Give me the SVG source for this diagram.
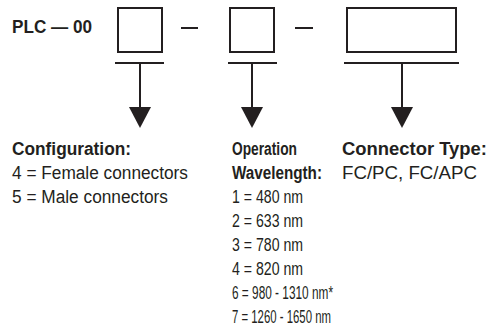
<svg xmlns="http://www.w3.org/2000/svg" width="488" height="335" viewBox="0 0 488 335">
  <style>
    .ink { stroke: #231f20; stroke-width: 2; fill: none; }
    .head { fill: #231f20; }
    text { font-family: "Liberation Sans", Arial, sans-serif; font-size: 18px; fill: #231f20; }
    .b { font-weight: bold; }
  </style>
  <defs>
    <polygon id="arrowhead" class="head" points="-11,0 11,0 0,21"/>
  </defs>
  <rect width="488" height="335" fill="#ffffff"/>

  <!-- part number prefix -->
  <g id="prefix">
    <text class="b" x="12" y="33" textLength="80" lengthAdjust="spacingAndGlyphs">PLC — 00</text>
  </g>

  <!-- code fields -->
  <g id="field-config">
    <rect class="ink" x="118" y="8" width="44" height="44"/>
  </g>
  <g id="field-wavelength">
    <rect class="ink" x="230" y="8" width="44" height="44"/>
  </g>
  <g id="field-connector">
    <rect class="ink" x="347" y="8" width="109" height="44"/>
  </g>

  <!-- separators, brackets and arrows -->
  <g id="connectors">
    <line class="ink" x1="181" y1="28" x2="198" y2="28"/>
    <line class="ink" x1="295" y1="28" x2="313" y2="28"/>

    <line class="ink" x1="115" y1="63" x2="164" y2="63"/>
    <line class="ink" x1="140" y1="63" x2="140" y2="109"/>
    <use href="#arrowhead" x="140" y="107"/>

    <line class="ink" x1="228" y1="63" x2="277" y2="63"/>
    <line class="ink" x1="252" y1="63" x2="252" y2="109"/>
    <use href="#arrowhead" x="252" y="107"/>

    <line class="ink" x1="344" y1="63" x2="459" y2="63"/>
    <line class="ink" x1="402" y1="63" x2="402" y2="109"/>
    <use href="#arrowhead" x="402" y="107"/>
  </g>

  <!-- legends -->
  <g id="legend-config">
    <text class="b" x="12" y="155" textLength="119" lengthAdjust="spacingAndGlyphs">Configuration:</text>
    <text x="12" y="179" textLength="176" lengthAdjust="spacingAndGlyphs">4 = Female connectors</text>
    <text x="12" y="203" textLength="156" lengthAdjust="spacingAndGlyphs">5 = Male connectors</text>
  </g>
  <g id="legend-wavelength">
    <text class="b" x="232" y="155" textLength="65" lengthAdjust="spacingAndGlyphs">Operation</text>
    <text class="b" x="232" y="179" textLength="90" lengthAdjust="spacingAndGlyphs">Wavelength:</text>
    <text x="232" y="203" textLength="71" lengthAdjust="spacingAndGlyphs">1 = 480 nm</text>
    <text x="232" y="227" textLength="71" lengthAdjust="spacingAndGlyphs">2 = 633 nm</text>
    <text x="232" y="251" textLength="71" lengthAdjust="spacingAndGlyphs">3 = 780 nm</text>
    <text x="232" y="275" textLength="71" lengthAdjust="spacingAndGlyphs">4 = 820 nm</text>
    <text x="232" y="299" textLength="101" lengthAdjust="spacingAndGlyphs">6 = 980 - 1310 nm*</text>
    <text x="232" y="323" textLength="99" lengthAdjust="spacingAndGlyphs">7 = 1260 - 1650 nm</text>
  </g>
  <g id="legend-connector">
    <text class="b" x="342" y="155" textLength="145" lengthAdjust="spacingAndGlyphs">Connector Type:</text>
    <text x="342" y="179" textLength="135" lengthAdjust="spacingAndGlyphs">FC/PC, FC/APC</text>
  </g>
</svg>
